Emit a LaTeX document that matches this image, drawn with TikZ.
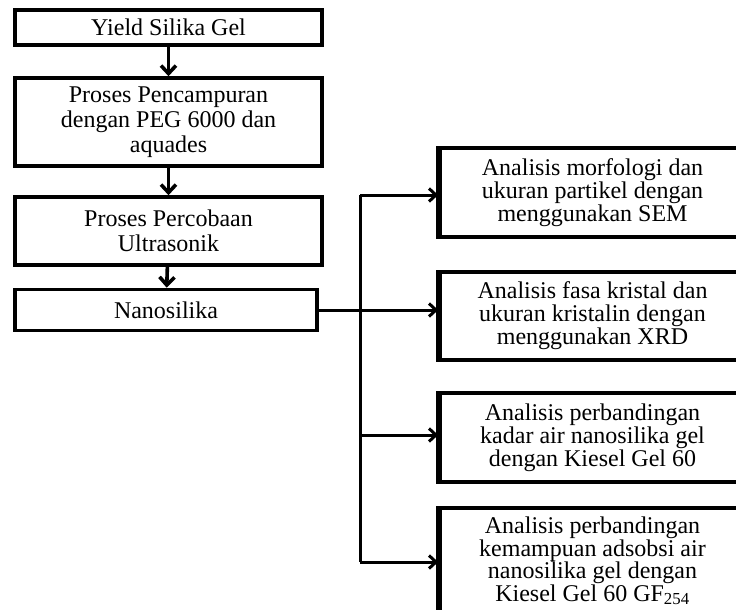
\documentclass[tikz,border=0pt]{standalone}
\usepackage{fontspec}
\setmainfont{Liberation Serif}
\usetikzlibrary{arrows.meta}
\begin{document}
\begin{tikzpicture}[x=1pt,y=-1pt,
  box/.style={draw, line width=3.6pt, align=center, inner sep=0pt,
    font=\fontsize{24}{25}\selectfont},
  rbox/.style={box, font=\fontsize{24}{23}\selectfont},
  arr/.style={line width=3.6pt, -{Straight Barb[length=8pt,width=15pt,line width=3.6pt]}},
  harr/.style={line width=3pt, -{Straight Barb[length=7pt,width=13pt,line width=3pt]}},
  conn/.style={line width=3pt}]
\path[use as bounding box] (0,0) rectangle (736,610);
\clip (0,0) rectangle (736,610);
% left column
\node[box, minimum width=307pt, minimum height=35pt] (L1) at (168.5,27.5) {Yield Silika Gel};
\node[box, minimum width=307pt, minimum height=88pt] (L2) at (168.5,122) {Proses Pencampuran\\dengan PEG 6000 dan\\aquades};
\node[box, minimum width=307pt, minimum height=68pt] (L3) at (168.5,231) {Proses Percobaan\\Ultrasonik};
\node[box, minimum width=302pt, minimum height=41pt] (L4) at (166,310) {Nanosilika};
% right column
\node[rbox, minimum width=305pt, minimum height=89pt] (R1) at (592.5,192.5) {Analisis morfologi dan\\ukuran partikel dengan\\menggunakan SEM};
\node[rbox, minimum width=305pt, minimum height=88pt] (R2) at (592.5,316) {Analisis fasa kristal dan\\ukuran kristalin dengan\\menggunakan XRD};
\node[rbox, minimum width=305pt, minimum height=89pt] (R3) at (592.5,437.5) {Analisis perbandingan\\kadar air nanosilika gel\\dengan Kiesel Gel 60};
\node[rbox, minimum width=305pt, minimum height=106pt, font=\fontsize{24}{22.5}\selectfont] (R4) at (592.5,561) {Analisis perbandingan\\kemampuan adsobsi air\\nanosilika gel dengan\\Kiesel Gel 60 GF\textsubscript{254}};
% thicker left edges of right boxes
\foreach \r in {R1,R2,R3,R4}
  \draw[line width=5.5pt] ([xshift=1pt]\r.north west) -- ([xshift=1pt]\r.south west);
% vertical arrows
\draw[arr] (L1) -- (L2);
\draw[arr] (L2) -- (L3);
\draw[arr] (L3) -- (L4);
% branching
\coordinate (b1) at (360,195);
\coordinate (b2) at (360,310);
\coordinate (b3) at (360,435);
\coordinate (b4) at (360,562);
\draw[conn] (L4.east) -- (b2);
\draw[conn] (b1) -- (b4);
\draw[harr] (b1) -- (b1 -| R1.west);
\draw[harr] (b2) -- (b2 -| R2.west);
\draw[harr] (b3) -- (b3 -| R3.west);
\draw[harr] (b4) -- (b4 -| R4.west);
\end{tikzpicture}
\end{document}
